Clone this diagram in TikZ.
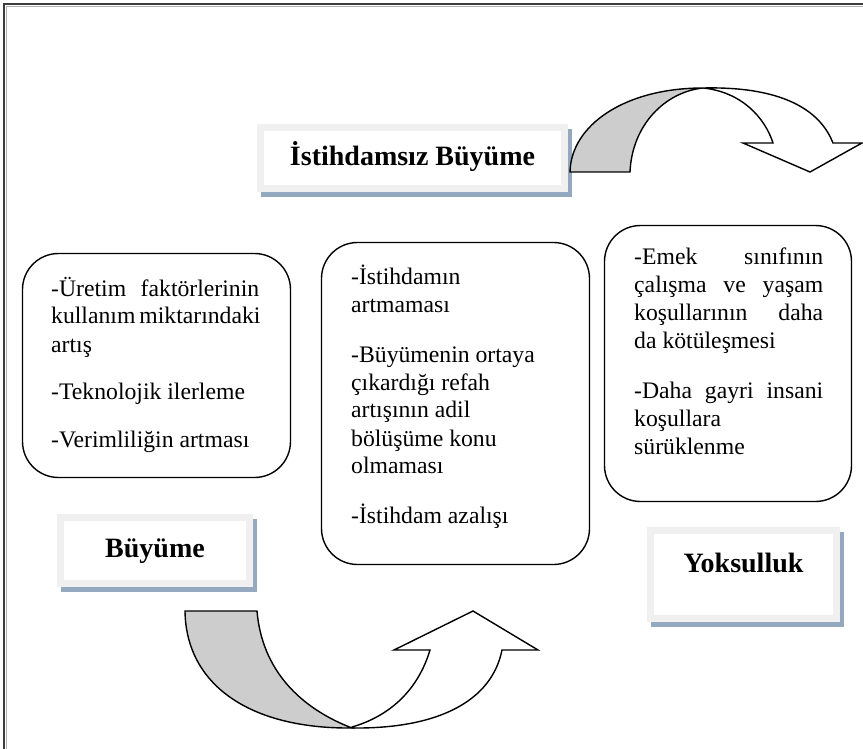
\documentclass[tikz,border=0pt]{standalone}
\usepackage{fontspec}
\setmainfont{Liberation Serif}
\usetikzlibrary{backgrounds}

\definecolor{bandgray}{HTML}{CDCDCD}
\definecolor{titleborder}{HTML}{F0F0F0}
\definecolor{titleshadow}{HTML}{94A9C0}
\definecolor{framedark}{HTML}{3C3C3C}

\tikzset{
  titlebox/.style={rectangle, fill=white, draw=titleborder, line width=7pt,
    inner sep=0pt, font=\fontsize{28}{34}\selectfont\bfseries},
  roundbox/.style={rectangle, rounded corners=36pt, draw=black,
    line width=1.4pt, inner sep=0pt},
  bodytext/.style={anchor=base west, inner sep=0pt,
    font=\fontsize{23.7}{28}\selectfont},
  ribbon/.style={draw=black, line width=1.4pt, line join=miter},
}

\begin{document}
\begin{tikzpicture}[x=1pt, y=-1pt]
\useasboundingbox (0,0) rectangle (863,749);

% page frame (left and top edges)
\draw[framedark, line width=1.6pt] (4,749) -- (4,4) -- (863,4);
\draw[black!30, line width=0.8pt] (6.5,749) -- (6.5,6.5) -- (863,6.5);

% upper curved arrow: front band with head, then shaded back part
\draw[ribbon, fill=white]
  (703,88) .. controls (790,86) and (822,115) .. (833,143)
  -- (862,143) -- (810,172) -- (743,143) -- (773,143)
  .. controls (765,118) and (742,92) .. (703,88) -- cycle;
\draw[ribbon, fill=bandgray]
  (570,172) .. controls (571,125) and (625,88) .. (703,88)
  .. controls (665,92) and (632,125) .. (630,172) -- cycle;

% lower curved arrow: front band with head, then shaded back part
\draw[ribbon, fill=white]
  (352,728) .. controls (440,729) and (492,700) .. (502,650)
  -- (538,650) -- (473,611) -- (394,650) -- (430,650)
  .. controls (418,690) and (390,716) .. (352,727) -- cycle;
\draw[ribbon, fill=bandgray]
  (185,611) .. controls (186,685) and (250,729) .. (352,728)
  .. controls (300,708) and (262,670) .. (257,611) -- cycle;

% title boxes
\node[titlebox, minimum width=304pt, text height=38.5pt, text depth=22.5pt]
  (growthless) at (412.5,158) {İstihdamsız Büyüme};
\node[titlebox, minimum width=189pt, text height=39.5pt, text depth=26.5pt]
  (growth) at (155,550.5) {Büyüme};
\node[titlebox, minimum width=186pt, text height=41.5pt, text depth=46.5pt]
  (poverty) at (743.5,574.5) {Yoksulluk};

\begin{scope}[on background layer]
  \foreach \b in {growthless, growth, poverty}
    \fill[titleshadow] ([shift={(4,5)}]\b.north west)
      rectangle ([shift={(4,5)}]\b.south east);
\end{scope}

% rounded content boxes
\node[roundbox, minimum width=268pt, minimum height=224pt]
  (leftbox) at (156.5,365.5) {};
\node[roundbox, minimum width=268pt, minimum height=322pt]
  (midbox) at (455.5,403.5) {};
\node[roundbox, minimum width=247pt, minimum height=276pt]
  (rightbox) at (728,363.5) {};

\node[bodytext] (lefttext) at (51,296) {\parbox[t]{208pt}{%
  \setlength{\parskip}{20pt}%
  \makebox[\linewidth][s]{-Üretim faktörlerinin}\newline
  \makebox[\linewidth][s]{kullanım miktarındaki}\newline
  artış\par
  -Teknolojik ilerleme\par
  -Verimliliğin artması}};

\node[bodytext] (midtext) at (351,284) {\parbox[t]{230pt}{%
  \raggedright\setlength{\parskip}{22pt}%
  -İstihdamın\\
  artmaması\par
  -Büyümenin ortaya\\
  çıkardığı refah\\
  artışının adil\\
  bölüşüme konu\\
  olmaması\par
  -İstihdam azalışı}};

\node[bodytext] (righttext) at (634,265) {\parbox[t]{189pt}{%
  \setlength{\parskip}{22pt}%
  \makebox[\linewidth][s]{-Emek sınıfının}\newline
  \makebox[\linewidth][s]{çalışma ve yaşam}\newline
  \makebox[\linewidth][s]{koşullarının daha}\newline
  da kötüleşmesi\par
  \makebox[\linewidth][s]{-Daha gayri insani}\newline
  koşullara\newline
  sürüklenme}};

\end{tikzpicture}
\end{document}
